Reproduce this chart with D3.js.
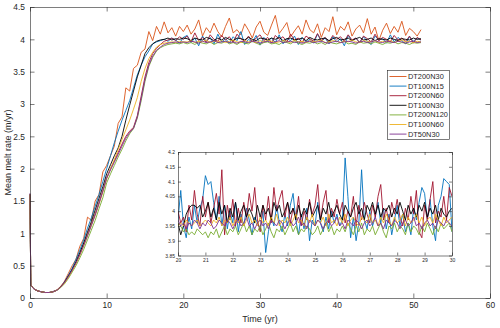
<!DOCTYPE html>
<html><head><meta charset="utf-8">
<script src="https://cdn.jsdelivr.net/npm/d3@7"></script>
<style>
body{margin:0;background:#fff}
svg{display:block}
text{font-family:"Liberation Sans",Arial,sans-serif;fill:#262626}
</style>
</head><body><svg id="c" width="500" height="328"></svg>
<script>
// ---------- DATA ----------
const seriesNames = ["DT200N30","DT100N15","DT200N60","DT100N30","DT200N120","DT100N60","DT50N30"];
const seriesColors = ["#D95319","#0072BD","#A2142F","#000000","#77AC30","#EDB120","#7E2F8E"];
const xTicks = [0,10,20,30,40,50,60];
const yTicks = [0,0.5,1,1.5,2,2.5,3,3.5,4,4.5];
const yTickLabels = ["0","0.5","1","1.5","2","2.5","3","3.5","4","4.5"];
const insetXTicks = [20,21,22,23,24,25,26,27,28,29,30];
const insetYTicks = [3.85,3.9,3.95,4,4.05,4.1,4.15,4.2];
const insetYTickLabels = ["3.85","3.9","3.95","4","4.05","4.1","4.15","4.2"];

// main time grid: t = 0, 0.1, then every 0.5 yr up to 51
const mainTimes = [0, 0.1].concat(d3.range(1, 103).map(k => k * 0.5));

// main series: start (t=0..4.5), rise (t=5..20), plateau (t=20.5..51)
const mainDT200N30 = [
 1.6,0.2,0.14,0.11,0.095,0.085,0.085,0.1,0.125,0.18,0.26,
 0.38,0.5,0.6,0.8,0.92,1.25,1.2,1.5,1.6,1.95,
 2.05,2.2,2.35,2.7,2.8,3.25,3.2,3.55,3.6,3.8,
 3.85,4.12,3.98,4.2,4.08,4.27,4.1,4.18,4.05,4.2,
 4.12,
 4.22,4.08,4.16,4.3,4.05,4.18,4.1,4.25,4.12,4.04,
 4.2,4.33,4.1,4.15,4.07,4.24,4.14,4.02,4.19,4.28,
 4.11,4.06,4.22,4.37,4.09,4.17,4.26,4.04,4.13,4.21,
 4.08,4.3,4.15,4.1,4.24,4.03,4.18,4.12,4.35,4.07,
 4.2,4.14,4.27,4.05,4.16,4.22,4.1,4.32,4.08,4.19,
 3.98,4.14,4.25,4.09,4.2,4.11,4.28,4.06,4.17,4.12,
 4.05,4.15];
const mainDT100N15 = [
 1.6,0.2,0.14,0.11,0.095,0.085,0.085,0.1,0.12,0.17,0.25,
 0.35,0.46,0.6,0.74,0.9,1.08,1.24,1.42,1.6,1.8,
 2.0,2.2,2.4,2.58,2.75,2.9,3.05,3.25,3.45,3.6,
 3.73,3.82,3.93,3.96,3.98,4.0,3.97,4.02,3.99,3.94,
 4.03,
 4.06,3.95,4.02,3.9,4.05,3.97,4.03,3.93,4.08,3.96,
 4.01,3.94,4.04,3.98,4.12,3.92,4.0,3.96,4.06,3.91,
 4.03,3.97,4.02,3.95,4.07,3.93,4.01,3.98,4.05,3.92,
 4.03,3.96,4.0,3.94,4.08,3.97,4.02,3.93,4.04,3.96,
 4.01,3.9,4.06,3.98,4.02,3.95,4.04,3.97,3.92,4.05,
 3.99,4.01,3.94,4.07,3.96,4.03,3.98,3.93,4.04,3.97,
 4.02,3.99];
const mainDT200N60 = [
 1.6,0.2,0.14,0.11,0.095,0.085,0.085,0.095,0.12,0.17,0.24,
 0.33,0.43,0.55,0.68,0.83,0.98,1.14,1.3,1.48,1.66,
 1.86,2.0,2.12,2.25,2.38,2.5,2.58,2.64,2.82,3.12,
 3.42,3.64,3.78,3.86,3.92,3.97,3.99,4.02,3.98,4.04,
 4.0,
 4.05,3.96,4.1,3.98,4.03,3.95,4.07,4.0,3.97,4.06,
 3.99,4.04,3.95,4.08,4.01,3.97,4.05,3.96,4.02,4.07,
 3.98,4.03,3.94,4.06,4.0,4.04,3.96,4.08,3.99,4.02,
 3.95,4.05,4.01,3.97,4.09,3.98,4.03,3.96,4.06,4.0,
 4.04,3.97,4.07,3.99,4.02,3.95,4.05,4.01,3.96,4.08,
 3.98,4.03,4.0,3.96,4.06,3.99,4.02,3.97,4.05,3.94,
 4.03,3.99];
const mainDT100N30 = [
 1.6,0.2,0.14,0.11,0.095,0.085,0.085,0.095,0.12,0.17,0.24,
 0.34,0.44,0.56,0.7,0.85,1.02,1.18,1.36,1.54,1.72,
 1.92,2.06,2.2,2.32,2.5,2.75,2.98,3.2,3.42,3.6,
 3.78,3.87,3.93,3.97,3.99,4.0,4.02,3.99,4.01,4.0,
 4.02,
 4.01,3.98,4.02,4.0,3.99,4.03,4.01,3.98,4.02,3.99,
 4.03,4.0,3.98,4.02,4.01,3.99,4.03,4.0,3.98,4.02,
 4.01,3.99,4.02,4.0,4.03,3.98,4.01,4.02,3.99,4.0,
 4.02,3.98,4.03,4.0,3.99,4.01,4.02,3.98,4.01,4.03,
 3.99,4.0,4.02,3.98,4.01,4.03,3.99,4.0,4.02,3.98,
 4.01,4.0,3.99,4.02,4.0,3.98,4.01,4.0,3.99,4.02,
 4.0,4.01];
const mainDT200N120 = [
 1.6,0.2,0.14,0.11,0.095,0.085,0.085,0.095,0.12,0.16,0.22,
 0.3,0.4,0.5,0.62,0.75,0.9,1.05,1.2,1.38,1.55,
 1.78,1.92,2.05,2.18,2.3,2.43,2.54,2.62,2.78,3.05,
 3.35,3.58,3.72,3.82,3.87,3.9,3.92,3.93,3.94,3.93,
 3.95,
 3.93,3.95,3.92,3.96,3.94,3.93,3.96,3.92,3.95,3.94,
 3.97,3.93,3.95,3.92,3.96,3.94,3.93,3.97,3.94,3.92,
 3.95,3.96,3.93,3.94,3.92,3.96,3.95,3.93,3.97,3.94,
 3.92,3.95,3.94,3.96,3.93,3.95,3.92,3.96,3.94,3.93,
 3.95,3.97,3.93,3.94,3.92,3.96,3.94,3.95,3.93,3.96,
 3.94,3.92,3.95,3.94,3.96,3.93,3.95,3.94,3.92,3.95,
 3.94,3.95];
const mainDT100N60 = [
 1.6,0.2,0.14,0.11,0.095,0.085,0.085,0.095,0.12,0.17,0.23,
 0.32,0.42,0.53,0.66,0.8,0.96,1.12,1.28,1.45,1.64,
 1.84,2.0,2.14,2.3,2.45,2.6,2.75,2.92,3.1,3.35,
 3.55,3.7,3.8,3.88,3.92,3.94,3.95,3.96,3.95,3.97,
 3.96,
 3.96,3.98,3.95,3.97,3.96,3.99,3.95,3.97,3.96,3.98,
 3.95,3.97,3.99,3.96,3.95,3.98,3.96,3.97,3.95,3.98,
 3.96,3.99,3.97,3.95,3.96,3.98,3.97,3.95,3.99,3.96,
 3.97,3.95,3.98,3.96,3.97,3.99,3.95,3.96,3.98,3.97,
 3.95,3.97,3.96,3.99,3.96,3.95,3.98,3.97,3.96,3.98,
 3.95,3.97,3.96,3.98,3.95,3.97,3.99,3.96,3.97,3.95,
 3.97,3.96];
const mainDT50N30 = [
 1.62,0.2,0.14,0.11,0.095,0.085,0.085,0.095,0.12,0.17,0.24,
 0.33,0.43,0.54,0.67,0.81,0.96,1.12,1.28,1.46,1.65,
 1.85,1.98,2.1,2.22,2.35,2.47,2.56,2.62,2.8,3.08,
 3.38,3.6,3.74,3.83,3.88,3.92,3.94,3.95,3.96,3.95,
 3.96,
 3.95,3.97,3.96,3.94,3.97,3.95,3.96,3.98,3.95,3.96,
 3.97,3.95,3.96,3.94,3.97,3.96,3.95,3.97,3.96,3.94,
 3.96,3.97,3.95,3.96,3.98,3.95,3.96,3.97,3.95,3.96,
 3.94,3.96,3.97,3.95,3.96,3.97,3.95,3.94,3.96,3.97,
 3.95,3.96,3.97,3.96,3.94,3.96,3.97,3.95,3.96,3.98,
 3.96,3.95,3.97,3.96,3.95,3.97,3.96,3.94,3.96,3.97,
 3.95,3.96];

// inset: t = 20.0 .. 30.0 every 0.1 yr
const insetTimes = d3.range(0, 101).map(k => 20 + k * 0.1);
const insetDT100N15 = [
 3.97,4.07,3.95,3.91,3.98,3.94,4.02,3.96,4.01,4.04,
 4.12,4.09,4.1,4.03,3.97,4.05,3.95,4.02,3.94,4.0,
 3.96,4.03,3.93,3.99,3.95,4.01,3.97,3.92,3.98,3.96,
 3.94,4.0,3.86,3.93,3.98,3.95,4.02,3.96,3.93,3.99,
 3.95,4.02,4.06,3.97,3.92,3.99,3.94,4.01,3.9,3.97,
 3.95,4.03,3.96,3.93,3.98,3.94,4.0,3.96,3.99,3.95,
 3.97,4.18,4.05,3.91,3.98,3.9,3.96,4.14,3.97,3.94,
 4.0,3.95,3.98,4.03,3.96,4.01,3.94,3.99,3.92,3.97,
 4.02,3.95,3.99,3.93,3.96,3.92,4.01,3.97,4.03,4.08,
 4.06,3.97,4.04,3.95,3.9,4.02,4.05,4.11,4.1,4.09,
 3.93];
const insetDT200N60 = [
 4.0,3.96,3.98,3.93,4.02,3.97,4.07,3.99,3.95,4.05,
 3.98,4.03,3.96,4.01,4.06,3.99,4.14,3.92,4.02,3.97,
 4.04,3.95,4.01,3.96,4.03,3.98,4.06,4.0,4.08,3.97,
 3.93,4.02,3.97,4.05,3.96,4.08,4.0,4.04,4.07,3.98,
 4.03,3.96,4.01,3.98,4.05,3.95,4.0,3.97,4.04,3.99,
 4.02,4.09,3.97,4.03,4.07,3.96,4.01,3.98,4.04,3.99,
 4.03,3.96,4.0,3.98,4.05,3.95,4.02,3.97,4.03,3.99,
 3.96,4.02,3.98,4.05,4.09,3.97,4.01,3.96,4.03,3.99,
 4.04,3.98,3.95,4.01,3.97,4.05,3.99,4.07,3.93,3.91,
 4.02,3.97,4.04,4.1,3.96,4.0,3.98,4.05,3.97,4.08,
 4.05];
const insetDT100N30 = [
 3.96,3.92,3.95,3.99,4.01,4.02,4.02,4.01,4.02,3.98,
 4.0,4.03,3.98,4.01,3.97,4.03,3.99,4.02,3.96,4.01,
 3.98,4.03,3.97,4.0,4.02,3.98,4.01,3.99,3.96,4.02,
 3.98,4.02,3.99,4.01,3.97,4.03,4.0,4.02,3.98,4.0,
 4.03,3.99,4.01,3.97,4.02,3.98,4.01,3.99,4.03,3.98,
 4.0,4.02,3.97,4.01,3.99,4.03,3.98,4.0,4.02,3.99,
 3.97,4.02,4.0,3.98,4.01,4.03,3.99,4.01,3.97,4.02,
 4.0,4.03,3.99,4.02,3.98,4.01,4.0,4.02,3.98,4.01,
 3.99,4.03,4.0,3.97,4.02,3.99,4.01,3.98,4.02,4.0,
 4.03,3.98,4.01,3.99,4.02,3.97,4.01,3.99,3.98,4.0,
 4.01];
const insetDT200N120 = [
 3.96,3.95,3.93,3.94,3.92,3.93,3.92,3.94,3.93,3.92,
 3.93,3.91,3.93,3.92,3.94,3.91,3.93,3.95,3.92,3.94,
 3.93,3.95,3.92,3.94,3.96,3.93,3.95,3.92,3.94,3.93,
 3.95,3.92,3.94,3.96,3.93,3.91,3.94,3.93,3.95,3.92,
 3.94,3.96,3.93,3.95,3.92,3.94,3.93,3.95,3.94,3.92,
 3.93,3.95,3.92,3.94,3.96,3.93,3.95,3.92,3.94,3.93,
 3.95,3.93,3.96,3.94,3.92,3.95,3.93,3.96,3.92,3.94,
 3.93,3.95,3.92,3.94,3.96,3.93,3.91,3.95,3.94,3.96,
 3.93,3.95,3.94,3.92,3.96,3.93,3.95,3.94,3.92,3.95,
 3.93,3.96,3.94,3.92,3.95,3.93,3.96,3.94,3.95,3.96,
 3.93];
const insetDT100N60 = [
 3.95,3.96,3.95,3.97,3.96,3.95,3.96,3.97,3.95,3.96,
 3.97,3.96,3.95,3.97,3.96,3.98,3.95,3.97,3.96,3.98,
 3.95,3.97,3.96,3.98,3.95,3.97,3.99,3.96,3.97,3.95,
 3.98,3.96,3.97,3.95,3.98,3.96,3.99,3.95,3.97,3.96,
 3.98,3.95,3.97,3.99,3.96,3.97,3.95,3.98,3.96,3.99,
 3.95,3.97,3.96,3.98,3.95,3.99,3.96,3.97,3.95,3.98,
 3.96,3.99,3.95,3.97,3.98,3.96,3.95,3.98,3.97,3.96,
 3.99,3.96,3.97,3.95,3.98,3.96,3.99,3.97,3.95,3.98,
 3.96,3.97,3.99,3.95,3.98,3.96,3.97,3.99,3.96,3.98,
 3.95,3.97,3.98,3.96,3.99,3.97,3.95,3.98,3.96,3.97,
 3.98];
const insetDT50N30 = [
 3.97,3.95,3.96,3.94,3.96,3.95,3.97,3.96,3.94,3.96,
 3.95,3.97,3.96,3.94,3.95,3.97,3.96,3.95,3.97,3.96,
 3.94,3.96,3.97,3.95,3.96,3.98,3.95,3.96,3.94,3.96,
 3.97,3.95,3.96,3.94,3.97,3.96,3.95,3.97,3.96,3.94,
 3.96,3.97,3.95,3.96,3.98,3.95,3.96,3.94,3.97,3.96,
 3.95,3.97,3.96,3.94,3.96,3.97,3.95,3.96,3.98,3.95,
 3.96,3.94,3.97,3.96,3.95,3.97,3.96,3.94,3.96,3.97,
 3.95,3.96,3.98,3.95,3.96,3.94,3.97,3.96,3.95,3.97,
 3.96,3.94,3.96,3.97,3.95,3.96,3.98,3.95,3.96,3.94,
 3.96,3.97,3.95,3.96,3.94,3.97,3.96,3.95,3.97,3.96,
 3.95];

const mainSeries = [mainDT200N30, mainDT100N15, mainDT200N60, mainDT100N30, mainDT200N120, mainDT100N60, mainDT50N30];
const insetSeries = [null, insetDT100N15, insetDT200N60, insetDT100N30, insetDT200N120, insetDT100N60, insetDT50N30];

// ---------- DRAW ----------
const svg = d3.select("#c");
const axisColor = "#262626";
const x = d3.scaleLinear().domain([0, 60]).range([30, 490]);
const y = d3.scaleLinear().domain([0, 4.5]).range([298, 7]);

svg.append("rect").attr("x", 30).attr("y", 7).attr("width", 460).attr("height", 291).attr("fill", "#fff");

// data lines
const gLines = svg.append("g");
mainSeries.forEach((vals, i) => {
  const pts = vals.map((v, k) => [mainTimes[k], v]).filter(p => p[0] !== undefined);
  gLines.append("path")
    .attr("d", d3.line().x(p => x(p[0])).y(p => y(p[1]))(pts))
    .attr("fill", "none").attr("stroke", seriesColors[i]).attr("stroke-width", 0.9)
    .attr("stroke-linejoin", "round");
});

function styleAxis(g, fs) {
  g.selectAll("path.domain").attr("stroke", axisColor).attr("stroke-width", 0.6);
  g.selectAll(".tick line").attr("stroke", axisColor).attr("stroke-width", 0.6);
  g.selectAll(".tick text").attr("fill", axisColor).style("font-size", fs + "px")
    .style("font-family", '"Liberation Sans",Arial,sans-serif');
}

const gx = svg.append("g").attr("transform", "translate(0,298)")
  .call(d3.axisBottom(x).tickValues(xTicks).tickFormat(d3.format("d")).tickSizeInner(-4.5).tickSizeOuter(0).tickPadding(4));
styleAxis(gx, 8.4);
const gxt = svg.append("g").attr("transform", "translate(0,7)")
  .call(d3.axisTop(x).tickValues(xTicks).tickFormat("").tickSizeInner(-4.5).tickSizeOuter(0));
styleAxis(gxt, 8);
const gy = svg.append("g").attr("transform", "translate(30,0)")
  .call(d3.axisLeft(y).tickValues(yTicks).tickFormat((d, i) => yTickLabels[i]).tickSizeInner(-4.5).tickSizeOuter(0).tickPadding(5));
styleAxis(gy, 8.4);
const gyr = svg.append("g").attr("transform", "translate(490,0)")
  .call(d3.axisRight(y).tickValues(yTicks).tickFormat("").tickSizeInner(-4.5).tickSizeOuter(0));
styleAxis(gyr, 8);

svg.append("text").attr("x", 260).attr("y", 322).attr("text-anchor", "middle")
  .style("font-size", "9px").text("Time (yr)");
svg.append("text").attr("transform", "translate(11,152.5) rotate(-90)").attr("text-anchor", "middle")
  .style("font-size", "9px").text("Mean melt rate (m/yr)");

// legend
const lg = svg.append("g");
lg.append("rect").attr("x", 387.5).attr("y", 70.5).attr("width", 62).attr("height", 69)
  .attr("fill", "#fff").attr("stroke", axisColor).attr("stroke-width", 0.6);
seriesNames.forEach((n, i) => {
  const yy = 76.5 + i * 9.6;
  lg.append("line").attr("x1", 389.5).attr("x2", 406.5).attr("y1", yy).attr("y2", yy)
    .attr("stroke", seriesColors[i]).attr("stroke-width", 0.9);
  lg.append("text").attr("x", 408).attr("y", yy).attr("dy", "0.35em")
    .style("font-size", "7.4px").text(n);
});

// inset
const xi = d3.scaleLinear().domain([20, 30]).range([178, 452]);
const yi = d3.scaleLinear().domain([3.85, 4.2]).range([255.5, 152]);
svg.append("rect").attr("x", 178).attr("y", 152).attr("width", 274).attr("height", 103.5).attr("fill", "#fff");
svg.append("clipPath").attr("id", "ic").append("rect")
  .attr("x", 178).attr("y", 152).attr("width", 274).attr("height", 103.5);
const gi = svg.append("g").attr("clip-path", "url(#ic)");
insetSeries.forEach((vals, i) => {
  if (!vals) return;
  const pts = vals.map((v, k) => [insetTimes[k], v]);
  gi.append("path")
    .attr("d", d3.line().x(p => xi(p[0])).y(p => yi(p[1]))(pts))
    .attr("fill", "none").attr("stroke", seriesColors[i]).attr("stroke-width", 0.9)
    .attr("stroke-linejoin", "round");
});
const gix = svg.append("g").attr("transform", "translate(0,255.5)")
  .call(d3.axisBottom(xi).tickValues(insetXTicks).tickFormat(d3.format("d")).tickSizeInner(-3).tickSizeOuter(0).tickPadding(3));
styleAxis(gix, 5);
const gixt = svg.append("g").attr("transform", "translate(0,152)")
  .call(d3.axisTop(xi).tickValues(insetXTicks).tickFormat("").tickSizeInner(-3).tickSizeOuter(0));
styleAxis(gixt, 5);
const giy = svg.append("g").attr("transform", "translate(178,0)")
  .call(d3.axisLeft(yi).tickValues(insetYTicks).tickFormat((d, i) => insetYTickLabels[i]).tickSizeInner(-3).tickSizeOuter(0).tickPadding(3));
styleAxis(giy, 5);
const giyr = svg.append("g").attr("transform", "translate(452,0)")
  .call(d3.axisRight(yi).tickValues(insetYTicks).tickFormat("").tickSizeInner(-3).tickSizeOuter(0));
styleAxis(giyr, 5);
</script>
</body></html>
